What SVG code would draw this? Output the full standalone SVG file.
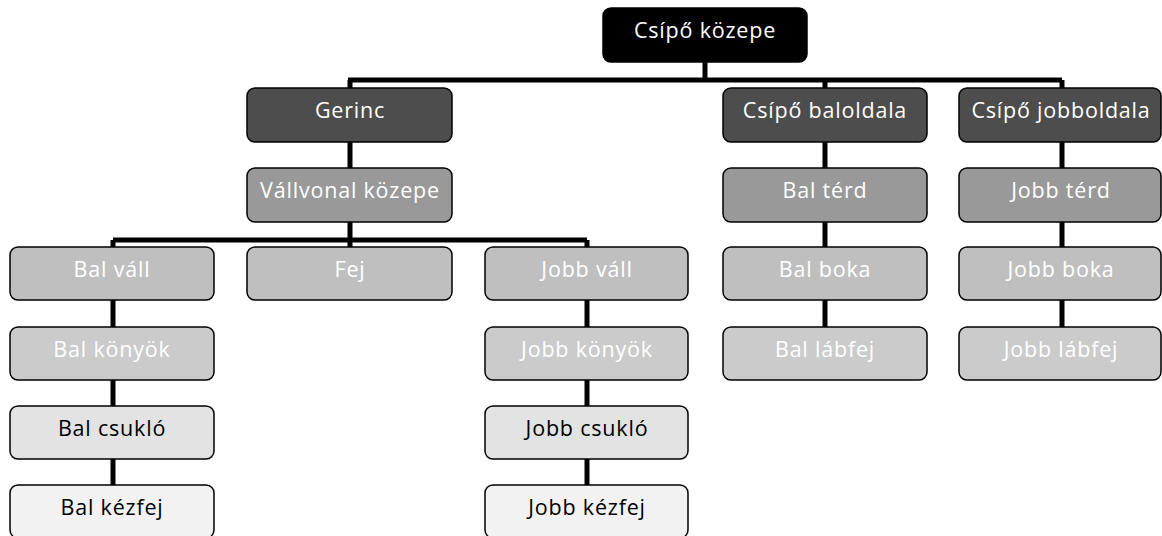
<svg xmlns="http://www.w3.org/2000/svg" width="1162" height="536" viewBox="0 0 1162 536">
<style>
.n rect{stroke:#000;stroke-width:1.5}
.n text{font-family:"Open Sans","Liberation Sans",sans-serif;font-size:21.5px;letter-spacing:0.8px;text-anchor:middle}
.l0 rect{fill:#000}.l0 text{fill:#fff}
.l1 rect{fill:#4d4d4d}.l1 text{fill:#fff}
.l2 rect{fill:#999}.l2 text{fill:#fff}
.l3 rect{fill:#bfbfbf}.l3 text{fill:#fff}
.l4 rect{fill:#cbcbcb}.l4 text{fill:#fff}
.l5 rect{fill:#e3e3e3}.l5 text{fill:#000}
.l6 rect{fill:#f2f2f2}.l6 text{fill:#000}
.c{stroke:#000;stroke-width:5;fill:none}
</style>
<rect width="1162" height="536" fill="#fff"/>
<g id="connectors" class="c">
<path d="M705,62 V80 M348,80 H1062 M350,80 V88 M825,80 V88 M1062,80 V88"/>
<path d="M350,142 V247"/>
<path d="M113,240 H587 M113,240 V247 M587,240 V247"/>
<path d="M113,300 V485 M587,300 V485"/>
<path d="M825,142 V327 M1062,142 V327"/>
</g>
<g id="n-csipo-kozepe" class="n l0"><rect x="603" y="8" width="204" height="54" rx="8"/><text x="705" y="38">Csípő közepe</text></g>
<g id="n-gerinc" class="n l1"><rect x="247" y="88" width="205" height="54" rx="8"/><text x="350" y="118">Gerinc</text></g>
<g id="n-csipo-baloldala" class="n l1"><rect x="723" y="88" width="204" height="54" rx="8"/><text x="825" y="118">Csípő baloldala</text></g>
<g id="n-csipo-jobboldala" class="n l1"><rect x="959" y="88" width="202" height="54" rx="8"/><text x="1061" y="118">Csípő jobboldala</text></g>
<g id="n-vallvonal" class="n l2"><rect x="247" y="168" width="205" height="54" rx="8"/><text x="350" y="198">Vállvonal közepe</text></g>
<g id="n-bal-terd" class="n l2"><rect x="723" y="168" width="204" height="54" rx="8"/><text x="825" y="198">Bal térd</text></g>
<g id="n-jobb-terd" class="n l2"><rect x="959" y="168" width="202" height="54" rx="8"/><text x="1061" y="198">Jobb térd</text></g>
<g id="n-bal-vall" class="n l3"><rect x="10" y="247" width="204" height="53" rx="8"/><text x="112" y="277">Bal váll</text></g>
<g id="n-fej" class="n l3"><rect x="247" y="247" width="205" height="53" rx="8"/><text x="350" y="277">Fej</text></g>
<g id="n-jobb-vall" class="n l3"><rect x="485" y="247" width="203" height="53" rx="8"/><text x="587" y="277">Jobb váll</text></g>
<g id="n-bal-boka" class="n l3"><rect x="723" y="247" width="204" height="53" rx="8"/><text x="825" y="277">Bal boka</text></g>
<g id="n-jobb-boka" class="n l3"><rect x="959" y="247" width="202" height="53" rx="8"/><text x="1061" y="277">Jobb boka</text></g>
<g id="n-bal-konyok" class="n l4"><rect x="10" y="327" width="204" height="53" rx="8"/><text x="112" y="357">Bal könyök</text></g>
<g id="n-jobb-konyok" class="n l4"><rect x="485" y="327" width="203" height="53" rx="8"/><text x="587" y="357">Jobb könyök</text></g>
<g id="n-bal-labfej" class="n l4"><rect x="723" y="327" width="204" height="53" rx="8"/><text x="825" y="357">Bal lábfej</text></g>
<g id="n-jobb-labfej" class="n l4"><rect x="959" y="327" width="202" height="53" rx="8"/><text x="1061" y="357">Jobb lábfej</text></g>
<g id="n-bal-csuklo" class="n l5"><rect x="10" y="406" width="204" height="53" rx="8"/><text x="112" y="436">Bal csukló</text></g>
<g id="n-jobb-csuklo" class="n l5"><rect x="485" y="406" width="203" height="53" rx="8"/><text x="587" y="436">Jobb csukló</text></g>
<g id="n-bal-kezfej" class="n l6"><rect x="10" y="485" width="204" height="53" rx="8"/><text x="112" y="515">Bal kézfej</text></g>
<g id="n-jobb-kezfej" class="n l6"><rect x="485" y="485" width="203" height="53" rx="8"/><text x="587" y="515">Jobb kézfej</text></g>
</svg>
